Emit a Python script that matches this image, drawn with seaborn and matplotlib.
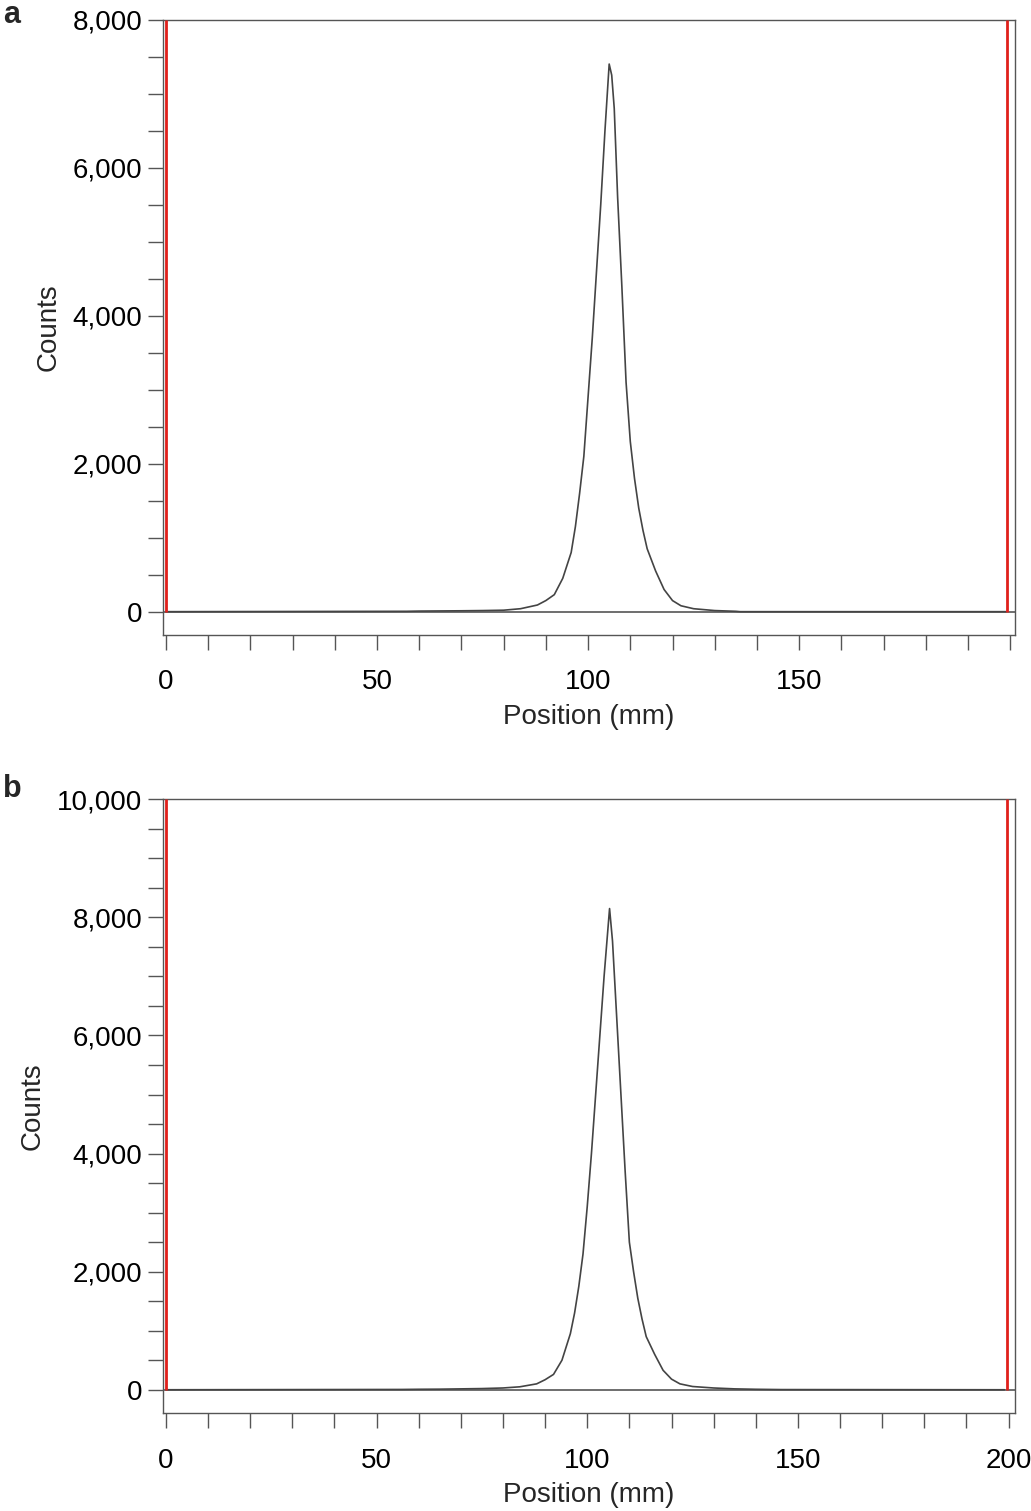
import numpy as np
import pandas as pd
import matplotlib.pyplot as plt
import seaborn as sns
from matplotlib.ticker import MultipleLocator, FuncFormatter

# Perfil medido (posición en mm, cuentas)
pos_a = [0, 57, 60, 65, 70, 75, 80, 84, 88, 90, 92, 94, 96, 97, 98, 99, 100, 101, 102, 103, 104,
         105, 105.6, 106.2, 107, 108, 109, 110, 111, 112, 113, 114, 116, 118, 120, 122, 125, 130, 135, 136, 199]
cnt_a = [0, 5, 8, 10, 12, 15, 20, 40, 90, 150, 230, 450, 800, 1150, 1600, 2100, 2900, 3700, 4600, 5500, 6500,
         7400, 7250, 6800, 5600, 4400, 3100, 2300, 1800, 1400, 1100, 850, 550, 300, 150, 80, 40, 15, 5, 0, 0]

pos_b = [0, 56, 60, 65, 70, 75, 80, 84, 88, 90, 92, 94, 96, 97, 98, 99, 100, 101, 102, 103, 104,
         105.3, 106, 107, 108, 109, 110, 111, 112, 113, 114, 116, 118, 120, 122, 125, 130, 135, 140, 146, 199]
cnt_b = [0, 5, 8, 10, 15, 20, 30, 50, 100, 170, 260, 500, 950, 1300, 1750, 2300, 3100, 4000, 5000, 6000, 7000,
         8150, 7600, 6300, 5000, 3700, 2500, 2000, 1550, 1200, 900, 600, 330, 180, 100, 55, 30, 15, 8, 3, 0]

red_a = [0, 199.3]
red_b = [0, 199.6]

sns.set_style("white")
plt.rcParams["font.family"] = "Liberation Sans"

fig = plt.figure(figsize=(10.31, 15.11), dpi=100)
ax_a = fig.add_axes([0.158, 0.580, 0.826, 0.407])
ax_b = fig.add_axes([0.158, 0.065, 0.826, 0.406])

paneles = [
    (ax_a, pos_a, cnt_a, red_a, (-310, 8000), (-0.7, 201.0), [0, 50, 100, 150], "a", 0.990),
    (ax_b, pos_b, cnt_b, red_b, (-390, 10000), (-0.7, 201.4), [0, 50, 100, 150, 200], "b", 0.478),
]

for ax, x, y, rojas, ylim, xlim, xt, letra, ytxt in paneles:
    df = pd.DataFrame({"Position": x, "Counts": y})
    sns.lineplot(data=df, x="Position", y="Counts", ax=ax, color="#444444", linewidth=1.2)
    ax.axhline(0, color="#555555", linewidth=1.2, zorder=1)
    ax.vlines(rojas, 0, ylim[1], colors="#e0201b", linewidth=2, zorder=3)
    ax.set_ylim(*ylim)
    ax.set_xlim(*xlim)
    ax.set_xticks(xt)
    ax.xaxis.set_minor_locator(MultipleLocator(10))
    ax.set_yticks(np.arange(0, ylim[1] + 1, 2000))
    ax.set_yticks(np.arange(0, ylim[1] + 1, 500), minor=True)
    ax.yaxis.set_major_formatter(FuncFormatter(lambda v, p: f"{int(v):,}"))
    for s in ax.spines.values():
        s.set_color("#555555")
        s.set_linewidth(1)
    ax.tick_params(axis="both", which="both", direction="out", length=11, width=1,
                   color="#555555", labelsize=20, labelcolor="black", bottom=True, left=True)
    ax.tick_params(axis="y", which="major", pad=4)
    ax.tick_params(axis="x", which="both", pad=14)
    ax.set_xlabel("Position (mm)", fontsize=20, labelpad=6)
    ax.set_ylabel("Counts", fontsize=20, labelpad=8)
    fig.text(0.003, ytxt, letra, fontsize=22, fontweight="bold", va="center")

plt.savefig("out.png", dpi=100)
